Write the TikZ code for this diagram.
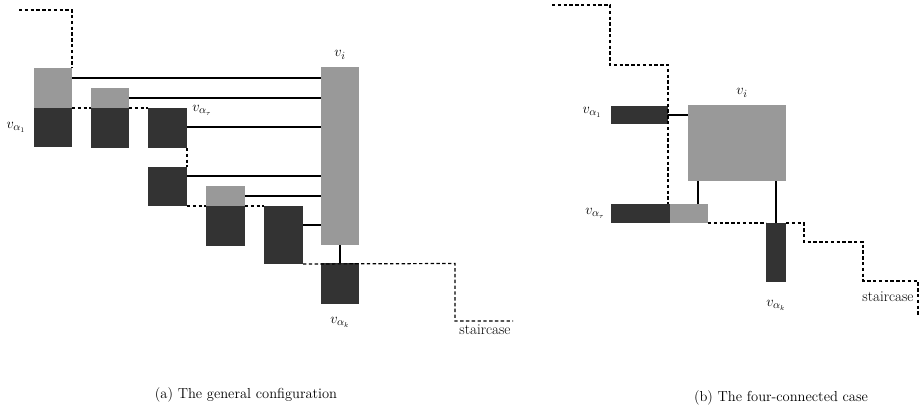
\documentclass[tikz,border=0pt]{standalone}
\usetikzlibrary{calc}
\begin{document}
\begin{tikzpicture}[x=1pt,y=-1pt,
  box/.style={inner sep=0pt,outer sep=0pt,draw=none},
  lite/.style={box,fill=black!40},
  dark/.style={box,fill=black!80},
  stair/.style={line width=1.2pt,dash pattern=on 3.4pt off 2.4pt},
  conn/.style={line width=1.1pt},
  lbl/.style={inner sep=0pt,font=\fontsize{15}{17}\selectfont},
  captext/.style={inner sep=0pt,font=\fontsize{14.5}{17}\selectfont}]
\useasboundingbox (0,0) rectangle (920,409);
% ---------- (a) ----------
\node[lite,minimum width=38pt,minimum height=40pt] (l1) at (53,88) {};
\node[dark,minimum width=38pt,minimum height=39pt] (d1) at (53,127.5) {};
\node[lite,minimum width=38pt,minimum height=20pt] (l2) at (110,98) {};
\node[dark,minimum width=38pt,minimum height=40pt] (d2) at (110,128) {};
\node[dark,minimum width=39pt,minimum height=40pt] (d3) at (167.5,128) {};
\node[dark,minimum width=39pt,minimum height=39pt] (d4) at (167.5,186.5) {};
\node[lite,minimum width=39pt,minimum height=20pt] (l5) at (225.5,196) {};
\node[dark,minimum width=39pt,minimum height=40pt] (d5) at (225.5,226) {};
\node[dark,minimum width=39pt,minimum height=58pt] (d6) at (283.5,235) {};
\node[lite,minimum width=38pt,minimum height=178pt] (vi) at (340,156) {};
\node[dark,minimum width=38pt,minimum height=41pt] (dk) at (340,283.5) {};
\coordinate (sa0) at (19,10);
\coordinate (sa1) at (455,263.5);
\coordinate (sa2) at (455,321);
\coordinate (sa3) at (513,321);
% connectors
\draw[conn] (l1.east |- 0,78) -- (vi.west |- 0,78);
\draw[conn] (l2.east) -- (vi.west |- l2.east);
\draw[conn] (d3.east |- 0,127) -- (vi.west |- 0,127);
\draw[conn] (d4.east |- 0,176) -- (vi.west |- 0,176);
\draw[conn] (l5.east) -- (vi.west |- l5.east);
\draw[conn] (d6.east |- 0,225) -- (vi.west |- 0,225);
\draw[conn] (vi.south) -- (dk.north);
% staircase
\draw[stair] (sa0) -| (l1.north east);
\draw[stair] (l1.south east) -- (d2.north west);
\draw[stair] (d2.north east) -- (d3.north west);
\draw[stair] (d3.south east) -- (d4.north east);
\draw[stair] (d4.south east) -- (d5.north west);
\draw[stair] (d5.north east) -- (d6.north west);
\draw[stair] (d6.south east) -- (sa1) -- (sa2) -- (sa3);
% labels
\node[lbl] (tvi) at (340,55) {$v_i$};
\node[lbl] (ta1) at (16,127) {$v_{\alpha_1}$};
\node[lbl] (tat) at (202,110) {$v_{\alpha_\tau}$};
\node[lbl] (tak) at (340,322) {$v_{\alpha_k}$};
\node[lbl] (tsa) at (485,330) {staircase};
\node[captext] (capa) at (246,395) {(a) The general configuration};
% ---------- (b) ----------
\node[dark,minimum width=57pt,minimum height=18pt] (b1) at (639.5,115) {};
\node[dark,minimum width=59pt,minimum height=19pt] (bt) at (640.5,213.5) {};
\node[lite,minimum width=38pt,minimum height=19pt] (bl) at (689,213.5) {};
\node[lite,minimum width=98pt,minimum height=76pt] (bvi) at (737,143) {};
\node[dark,minimum width=20pt,minimum height=59pt] (bk) at (776,252.5) {};
\coordinate (sb0) at (552,5);
\coordinate (sb1) at (610,5);
\coordinate (sb2) at (610,65);
\coordinate (sb3) at (668,65);
\coordinate (sb4) at (804,223);
\coordinate (sb5) at (804,242);
\coordinate (sb6) at (863,242);
\coordinate (sb7) at (863,281);
\coordinate (sb8) at (918,281);
\coordinate (sb9) at (918,317);
\draw[conn] (b1.east) -- (bvi.west |- b1.east);
\draw[conn] (bl.north -| 698,0) -- (bvi.south -| 698,0);
\draw[conn] (bvi.south -| bk.north) -- (bk.north);
\draw[stair] (sb0) -- (sb1) -- (sb2) -- (sb3) -- (sb3 |- bt.north);
\draw[stair] (bl.south east) -- (bk.north west);
\draw[stair] (bk.north east) -- (sb4) -- (sb5) -- (sb6) -- (sb7) -- (sb8) -- (sb9);
\node[lbl] (tb1) at (592,112) {$v_{\alpha_1}$};
\node[lbl] (tbt) at (595,213) {$v_{\alpha_\tau}$};
\node[lbl] (tbi) at (742,93) {$v_i$};
\node[lbl] (tbk) at (776,305) {$v_{\alpha_k}$};
\node[lbl] (tsb) at (888,297) {staircase};
\node[captext] (capb) at (781,398) {(b) The four-connected case};
\end{tikzpicture}
\end{document}
